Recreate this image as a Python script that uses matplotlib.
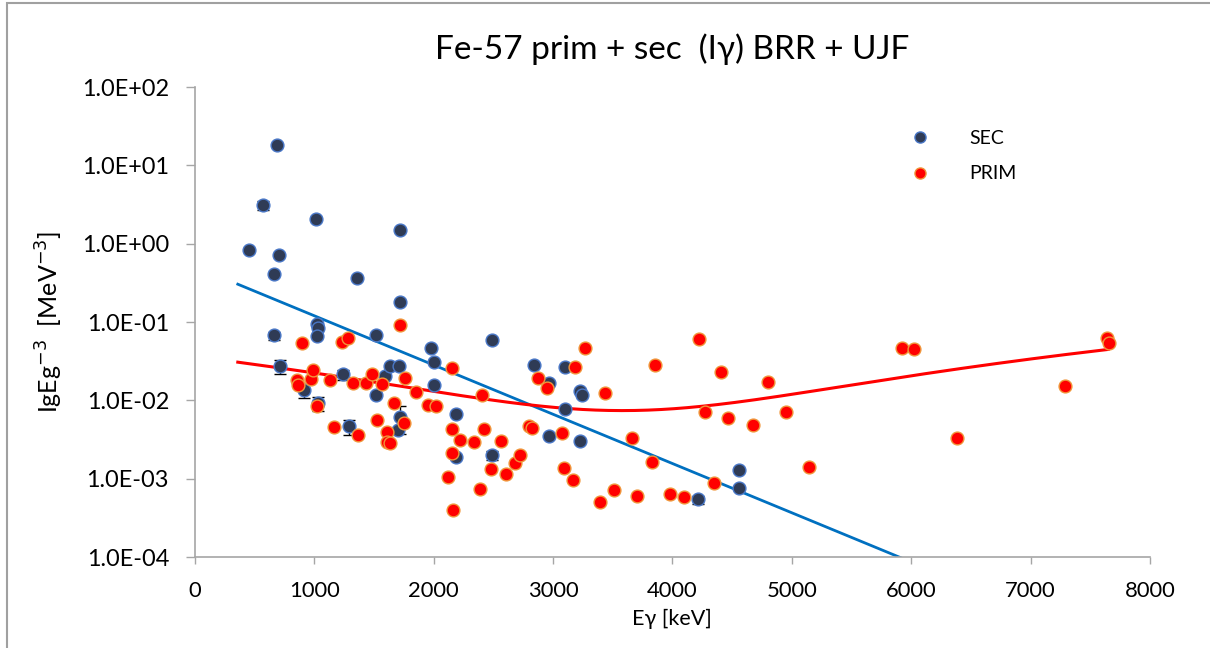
import matplotlib.pyplot as plt
import numpy as np
from matplotlib.lines import Line2D
from matplotlib.patches import Rectangle
from matplotlib.ticker import FixedLocator, FuncFormatter

plt.rcParams['font.family'] = ['Lato', 'DejaVu Sans']

# secondary gamma lines: energy [keV], intensity, error (0 = no bar)
sec_energy = [452, 570, 662, 662, 687, 704, 712, 913, 1014, 1022, 1030, 1022,
              1030, 1240, 1290, 1357, 1516, 1516, 1592, 1634, 1709, 1717,
              1717, 1717, 1700, 1977, 2002, 2002, 2186, 2186, 2488, 2488,
              2840, 2965, 2965, 3100, 3100, 3225, 3242, 3225, 4214, 4557, 4557]
sec_value = [0.82, 3.09, 0.406, 0.0676, 18.0, 0.71, 0.0272, 0.0134, 2.04,
             0.093, 0.083, 0.0656, 0.0092, 0.0215, 0.00466, 0.37, 0.0676,
             0.0116, 0.0202, 0.0272, 0.0272, 1.48, 0.178, 0.00607, 0.00414,
             0.0461, 0.0306, 0.0155, 0.0066, 0.0019, 0.0583, 0.00199, 0.028,
             0.0165, 0.00347, 0.0264, 0.00767, 0.013, 0.0116, 0.003, 5.45e-4,
             1.28e-3, 7.5e-4]
sec_error = [0, 0.4, 0, 0.008, 0, 0, 0.0055, 0.0027, 0, 0, 0, 0,
             0.0019, 0.0032, 0.001, 0, 0, 0, 0, 0, 0, 0,
             0, 0.0023, 0, 0, 0, 0, 0, 0, 0, 0.00026,
             0, 0, 0, 0, 0, 0, 0, 0, 6.5e-5, 0, 0]

# primary gamma lines
prim_energy = [854, 863, 896, 972, 988, 1022, 1131, 1164, 1231, 1282, 1324,
               1365, 1432, 1483, 1525, 1567, 1608, 1608, 1634, 1667, 1717,
               1751, 1759, 1851, 1952, 2019, 2119, 2153, 2153, 2153, 2161,
               2220, 2337, 2387, 2404, 2421, 2480, 2563, 2605, 2681, 2723,
               2798, 2823, 2873, 2949, 3074, 3091, 3166, 3183, 3267, 3393,
               3435, 3510, 3661, 3703, 3828, 3853, 3979, 4096, 4222, 4272,
               4348, 4406, 4465, 4674, 4800, 4951, 5143, 5923, 6023, 6383,
               7288, 7640, 7657]
prim_value = [0.018, 0.0155, 0.0534, 0.0185, 0.0241, 0.0084, 0.018, 0.00452,
              0.055, 0.062, 0.0165, 0.00357, 0.0165, 0.0215, 0.0056, 0.016,
              0.0039, 0.0029, 0.00283, 0.0092, 0.0906, 0.0051, 0.0191, 0.0127,
              0.0086, 0.0084, 0.00104, 0.0256, 0.00426, 0.0021, 3.94e-4,
              0.00308, 0.0029, 7.3e-4, 0.0116, 0.00426, 1.32e-3, 0.003,
              1.14e-3, 1.57e-3, 1.99e-3, 4.66e-3, 4.5e-3, 0.0191, 0.0142,
              0.0038, 1.36e-3, 9.5e-4, 0.0264, 0.0461, 5.1e-4, 0.0123, 7.1e-4,
              3.27e-3, 5.95e-4, 1.62e-3, 0.028, 6.3e-4, 5.8e-4, 0.06, 7.2e-3,
              8.7e-4, 0.0228, 5.9e-3, 4.9e-3, 0.017, 7.2e-3, 1.40e-3, 0.0461,
              0.0448, 3.27e-3, 0.0151, 0.062, 0.0534]

# trendlines: exponential for SEC, 2nd order polynomial for PRIM
trend_range = [360, 7650]
sec_exp_coef = [0.512, -1.448e-3]               # a * exp(b * E)
prim_poly_coef = [2.25e-9, -1.611e-5, 0.03624]  # c2, c1, c0

x_ticks = [0, 1000, 2000, 3000, 4000, 5000, 6000, 7000, 8000]
y_ticks = [1e-4, 1e-3, 1e-2, 1e-1, 1e0, 1e1, 1e2]

SEC_FACE, SEC_EDGE = '#2F3B55', '#4A78C8'
PRIM_FACE, PRIM_EDGE = '#FF0000', '#F0963A'
AXIS_GREY = '#A6A6A6'

fig = plt.figure(figsize=(12.1, 6.48), dpi=100)
ax = fig.add_axes([0.161, 0.1404, 0.7894, 0.7253])

e_line = np.linspace(trend_range[0], trend_range[1], 400)
ax.plot(e_line, sec_exp_coef[0] * np.exp(sec_exp_coef[1] * e_line),
        color='#0070C0', lw=2.0, zorder=2)
ax.plot(e_line, np.polyval(prim_poly_coef, e_line),
        color='#FF0000', lw=2.2, zorder=2)

sec_e = np.array(sec_energy)
sec_v = np.array(sec_value)
sec_err = np.array(sec_error)
has_err = sec_err > 0
ax.errorbar(sec_e[has_err], sec_v[has_err], yerr=sec_err[has_err], fmt='none',
            ecolor='black', elinewidth=1.0, capsize=4, capthick=1.0, zorder=3)
ax.scatter(sec_e, sec_v, s=85, c=SEC_FACE, edgecolors=SEC_EDGE,
           linewidths=1.0, zorder=4)
ax.scatter(prim_energy, prim_value, s=85, c=PRIM_FACE, edgecolors=PRIM_EDGE,
           linewidths=1.0, zorder=5)

ax.set_yscale('log')
ax.set_xlim(0, 8000)
ax.set_ylim(1e-4, 1e2)
ax.xaxis.set_major_locator(FixedLocator(x_ticks))
ax.yaxis.set_major_locator(FixedLocator(y_ticks))
ax.yaxis.set_minor_locator(FixedLocator([]))
ax.yaxis.set_major_formatter(FuncFormatter(lambda v, pos: f'{v:.1E}'))

for side in ('top', 'right'):
    ax.spines[side].set_visible(False)
for side in ('left', 'bottom'):
    ax.spines[side].set_color(AXIS_GREY)
    ax.spines[side].set_linewidth(1.2)
ax.tick_params(axis='both', colors=AXIS_GREY, labelcolor='black',
               width=1.0, direction='out')
ax.tick_params(axis='x', labelsize=15.8, length=5, pad=12)
ax.tick_params(axis='y', labelsize=16.9, length=6.5, pad=12)

ax.set_title('Fe-57 prim + sec  (I\u03b3) BRR + UJF', fontsize=24, pad=20)
ax.set_xlabel('E\u03b3 [keV]', fontsize=15.5, labelpad=6)
ax.set_ylabel('IgEg$^{-3}$  [MeV$^{-3}$]', fontsize=18, labelpad=12)

handles = [
    Line2D([], [], ls='none', marker='o', markersize=8,
           markerfacecolor=SEC_FACE, markeredgecolor=SEC_EDGE),
    Line2D([], [], ls='none', marker='o', markersize=8,
           markerfacecolor=PRIM_FACE, markeredgecolor=PRIM_EDGE),
]
ax.legend(handles, ['SEC', 'PRIM'], loc='upper left',
          bbox_to_anchor=(0.721, 0.946), frameon=False, fontsize=14,
          handletextpad=1.5, labelspacing=0.95)

fig.add_artist(Rectangle((7 / 1210, -0.02), 1.05, 1 - 3 / 648 + 0.02,
                         transform=fig.transFigure, fill=False,
                         edgecolor='#A0A0A0', lw=1.5))

fig.savefig('out.png', dpi=100)
